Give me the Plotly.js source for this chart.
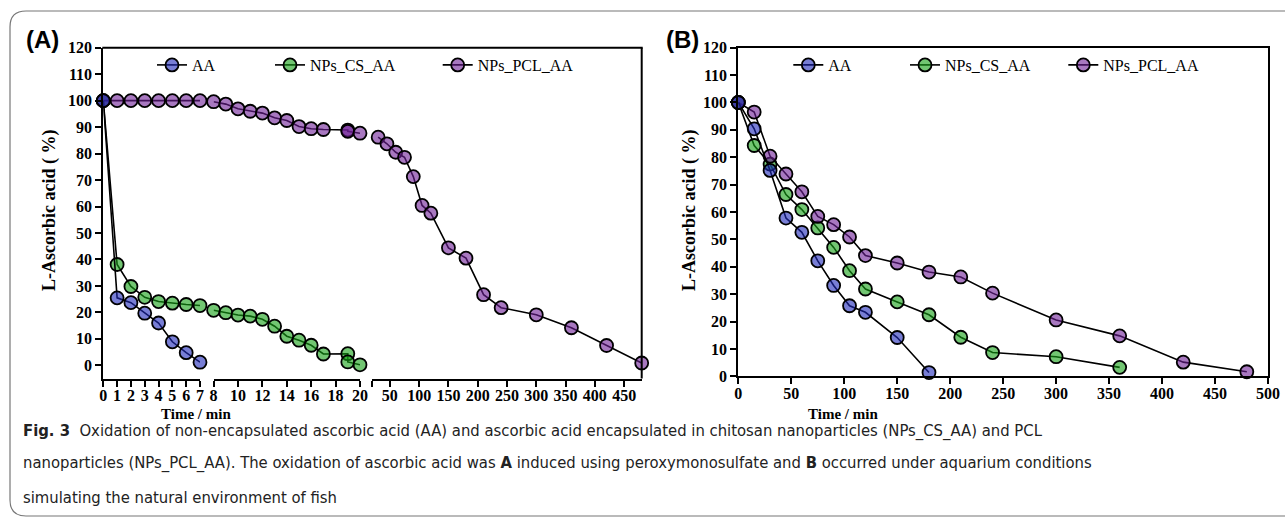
<!DOCTYPE html>
<html><head><meta charset="utf-8">
<script src="https://cdn.plot.ly/plotly-3.0.1.min.js"></script>
<style>html,body{margin:0;padding:0;background:#fff;} #chart{width:1285px;height:517px;}</style>
</head><body><div id="chart"></div>
<script>
// ---------- Panel A (broken time axis: 0-7 | 8-20 | 20-480 min) ----------
const aTime1 = [0, 1, 2, 3, 4, 5, 6, 7];
const aAA1   = [100, 25.5, 23.7, 19.7, 16.0, 8.9, 4.8, 1.2];
const aCS1   = [100, 38.1, 29.8, 25.7, 24.1, 23.5, 23.0, 22.6];
const aPCL1  = [100, 100, 100, 100, 100, 100, 100, 100];
const aTime2 = [8, 9, 10, 11, 12, 13, 14, 15, 16, 17, 19, 19, 20];
const aCS2   = [20.8, 19.9, 19.0, 18.6, 17.4, 14.8, 11.0, 9.5, 7.6, 4.3, 4.4, 1.3, 0.2];
const aPCL2  = [99.6, 98.7, 96.9, 96.0, 95.3, 93.5, 92.5, 90.2, 89.4, 89.1, 88.9, 88.4, 87.7];
const aTime3 = [30, 45, 60, 75, 90, 105, 120, 150, 180, 210, 240, 300, 360, 420, 480];
const aPCL3  = [86.2, 83.7, 80.5, 78.6, 71.3, 60.4, 57.5, 44.4, 40.5, 26.7, 21.8, 19.1, 14.2, 7.5, 0.9];
const aTicks1 = [0, 1, 2, 3, 4, 5, 6, 7];
const aTicks2 = [8, 10, 12, 14, 16, 18, 20];
const aTicks3 = [20, 50, 100, 150, 200, 250, 300, 350, 400, 450];
const aTickText3 = ['', '50', '100', '150', '200', '250', '300', '350', '400', '450'];

// ---------- Panel B ----------
const bTime = [0, 15, 30, 45, 60, 75, 90, 105, 120, 150, 180, 210, 240, 300, 360, 420, 480];
const bAA   = [100, 90.4, 75.2, 57.8, 52.6, 42.2, 33.2, 25.8, 23.4, 14.2, 1.4];
const bCS   = [100, 84.3, 77.5, 66.4, 60.9, 54.2, 47.1, 38.6, 31.9, 27.2, 22.5, 14.3, 8.7, 7.2, 3.3];
const bPCL  = [100, 96.5, 80.4, 73.9, 67.4, 58.4, 55.4, 50.9, 44.1, 41.4, 38.1, 36.3, 30.4, 20.6, 14.8, 5.2, 1.7];

const seriesNames = ['AA', 'NPs_CS_AA', 'NPs_PCL_AA'];
const fills = ['rgba(30,40,185,0.6)', 'rgba(20,160,20,0.6)', 'rgba(110,30,150,0.6)'];

const W = 1285, H = 517;
const px = v => v / W;
const py = v => 1 - v / H;

function tr(x, y, xa, ya, idx, legendId, show) {
  return {
    type: 'scatter', mode: 'lines+markers', x: x, y: y, xaxis: xa, yaxis: ya,
    name: seriesNames[idx], showlegend: show, legend: legendId, cliponaxis: false,
    line: {color: '#000', width: 1.6},
    marker: {symbol: 'circle', size: 13, color: fills[idx], line: {color: '#000', width: 1.8}},
    hoverinfo: 'x+y+name'
  };
}

const data = [
  tr(aTime1, aCS1, 'x', 'y', 1, 'legend2', true),
  tr(aTime2, aCS2, 'x2', 'y', 1, 'legend2', false),
  tr(aTime1, aPCL1, 'x', 'y', 2, 'legend3', true),
  tr(aTime2, aPCL2, 'x2', 'y', 2, 'legend3', false),
  tr(aTime3, aPCL3, 'x3', 'y', 2, 'legend3', false),
  tr(aTime1, aAA1, 'x', 'y', 0, 'legend', true),
  tr(bTime.slice(0, bCS.length), bCS, 'x4', 'y2', 1, 'legend5', true),
  tr(bTime.slice(0, bPCL.length), bPCL, 'x4', 'y2', 2, 'legend6', true),
  tr(bTime.slice(0, bAA.length), bAA, 'x4', 'y2', 0, 'legend4', true)
];

const tickFont = {family: 'Liberation Serif, Times New Roman, serif', size: 16, color: '#000', weight: 700};
const axBase = {
  showgrid: false, zeroline: false, showline: true, linecolor: '#000', linewidth: 2,
  ticks: 'outside', ticklen: 6, tickwidth: 2, tickcolor: '#000', tickfont: tickFont,
  fixedrange: true
};

const yA = [378.6, 47.7];
const yB = [376.4, 47.7];
const capFont = {family: 'Liberation Sans Narrow, Arial Narrow, DejaVu Sans Condensed, sans-serif', size: 16.5, color: '#222'};
const sOff = -5;

const layout = {
  width: W, height: H,
  margin: {l: 0, r: 0, t: 0, b: 0, pad: 0},
  paper_bgcolor: '#fff', plot_bgcolor: 'rgba(0,0,0,0)',
  showlegend: true,
  xaxis:  Object.assign({}, axBase, {domain: [px(103.3), px(200)], range: [0, 7], anchor: 'y', tickmode: 'array', tickvals: aTicks1, ticklabelstandoff: sOff}),
  xaxis2: Object.assign({}, axBase, {domain: [px(213.6), px(360)], range: [8, 20], anchor: 'y', tickmode: 'array', tickvals: aTicks2, ticklabelstandoff: sOff}),
  xaxis3: Object.assign({}, axBase, {domain: [px(372.3), px(641.7)], range: [20, 480], anchor: 'y', tickmode: 'array', tickvals: aTicks3, ticktext: aTickText3, ticklabelstandoff: sOff}),
  yaxis:  Object.assign({}, axBase, {domain: [py(yA[0]), py(yA[1])], range: [-5, 120], anchor: 'x', tickmode: 'linear', tick0: 0, dtick: 10}),
  xaxis4: Object.assign({}, axBase, {domain: [px(738.3), px(1268)], range: [0, 500], anchor: 'y2', tickmode: 'linear', tick0: 0, dtick: 50, mirror: true, ticklabelstandoff: sOff}),
  yaxis2: Object.assign({}, axBase, {domain: [py(yB[0]), py(yB[1])], range: [0, 120], anchor: 'x4', tickmode: 'linear', tick0: 0, dtick: 10, mirror: true}),
  shapes: [
    {type: 'line', xref: 'paper', yref: 'paper', x0: px(102.3), x1: px(642.7), y0: py(47.7), y1: py(47.7), line: {color: '#000', width: 2}},
    {type: 'line', xref: 'paper', yref: 'paper', x0: px(641.7), x1: px(641.7), y0: py(47.7), y1: py(378.6), line: {color: '#000', width: 2}},
    {type: 'path', xref: 'paper', yref: 'paper',
     path: 'M ' + px(1300) + ',' + py(11) + ' L ' + px(26) + ',' + py(11) + ' Q ' + px(10) + ',' + py(11) + ' ' + px(10) + ',' + py(27) +
           ' L ' + px(10) + ',' + py(500) + ' Q ' + px(10) + ',' + py(516) + ' ' + px(26) + ',' + py(516) + ' L ' + px(1300) + ',' + py(516),
     line: {color: '#777', width: 1.2}}
  ],
  annotations: [
    {text: '<b>(A)</b>', xref: 'paper', yref: 'paper', x: px(24), y: py(40), xanchor: 'left', yanchor: 'middle', showarrow: false,
     font: {family: 'Liberation Sans, Arial, sans-serif', size: 24, color: '#000'}},
    {text: '<b>(B)</b>', xref: 'paper', yref: 'paper', x: px(664), y: py(40), xanchor: 'left', yanchor: 'middle', showarrow: false,
     font: {family: 'Liberation Sans, Arial, sans-serif', size: 24, color: '#000'}},
    {text: '<b>L-Ascorbic acid ( %)</b>', xref: 'paper', yref: 'paper', x: px(49), y: py(211), textangle: -90, xanchor: 'center', yanchor: 'middle', showarrow: false,
     font: {family: 'Liberation Serif, Times New Roman, serif', size: 18, color: '#000'}},
    {text: '<b>L-Ascorbic acid ( %)</b>', xref: 'paper', yref: 'paper', x: px(689), y: py(211), textangle: -90, xanchor: 'center', yanchor: 'middle', showarrow: false,
     font: {family: 'Liberation Serif, Times New Roman, serif', size: 18, color: '#000'}},
    {text: '<b>Time / min</b>', xref: 'paper', yref: 'paper', x: px(196), y: py(414), xanchor: 'center', yanchor: 'middle', showarrow: false,
     font: {family: 'Liberation Serif, Times New Roman, serif', size: 15, color: '#000'}},
    {text: '<b>Time / min</b>', xref: 'paper', yref: 'paper', x: px(843), y: py(414), xanchor: 'center', yanchor: 'middle', showarrow: false,
     font: {family: 'Liberation Serif, Times New Roman, serif', size: 15, color: '#000'}},
    {text: '<b>Fig. 3</b>  Oxidation of non-encapsulated ascorbic acid (AA) and ascorbic acid encapsulated in chitosan nanoparticles (NPs_CS_AA) and PCL',
     xref: 'paper', yref: 'paper', x: px(21), y: py(431), xanchor: 'left', yanchor: 'middle', showarrow: false, font: capFont},
    {text: 'nanoparticles (NPs_PCL_AA). The oxidation of ascorbic acid was <b>A</b> induced using peroxymonosulfate and <b>B</b> occurred under aquarium conditions',
     xref: 'paper', yref: 'paper', x: px(21), y: py(463), xanchor: 'left', yanchor: 'middle', showarrow: false, font: capFont},
    {text: 'simulating the natural environment of fish',
     xref: 'paper', yref: 'paper', x: px(21), y: py(497), xanchor: 'left', yanchor: 'middle', showarrow: false, font: capFont}
  ]
};

const legFont = {family: 'Liberation Serif, Times New Roman, serif', size: 16, color: '#000'};
function leg(cx) {
  return {x: px(cx - 20), xanchor: 'left', y: py(65), yanchor: 'middle', orientation: 'h',
          bgcolor: 'rgba(0,0,0,0)', borderwidth: 0, font: legFont};
}
layout.legend  = leg(172);
layout.legend2 = leg(290);
layout.legend3 = leg(457.7);
layout.legend4 = leg(808.3);
layout.legend5 = leg(925);
layout.legend6 = leg(1083.3);

Plotly.newPlot('chart', data, layout, {displayModeBar: false, staticPlot: true});
</script>
</body></html>
